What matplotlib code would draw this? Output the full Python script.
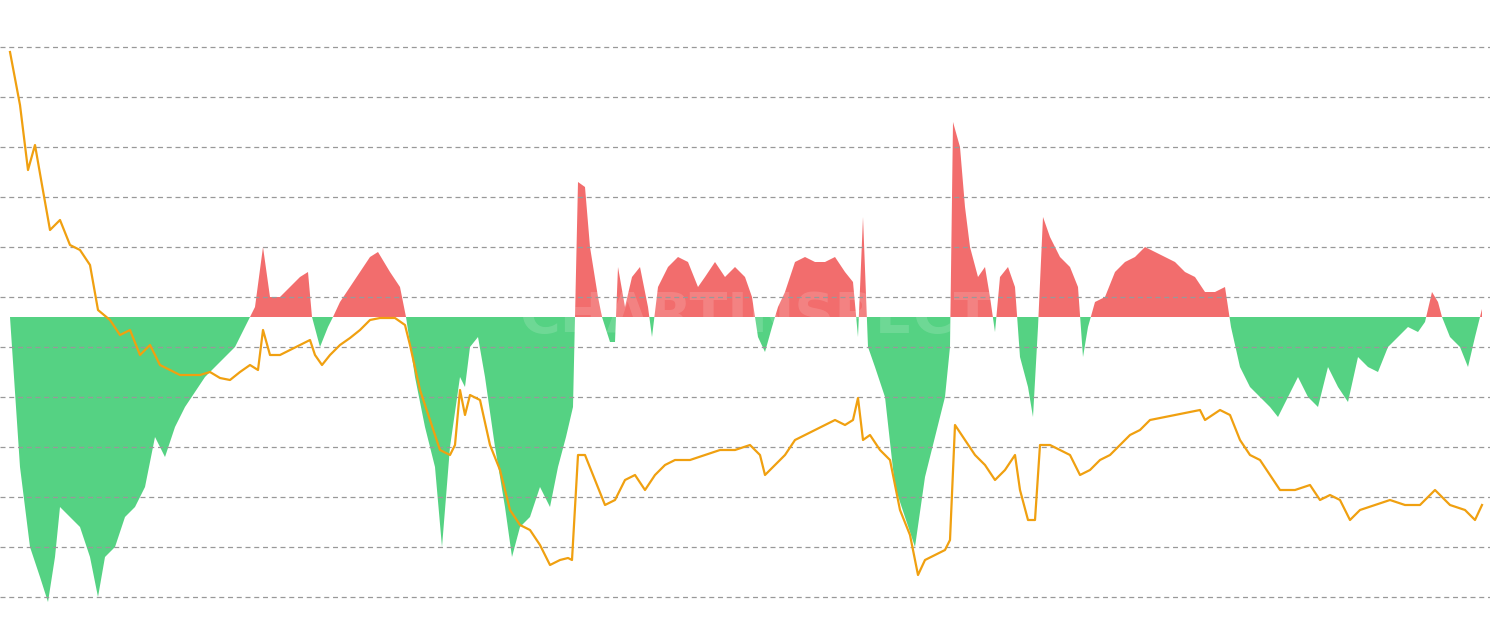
import matplotlib.pyplot as plt
import numpy as np

# oscillator (bars), positive = red, negative = green
osc_x = [10, 20, 30, 40, 48, 55, 60, 70, 80, 90, 98, 105, 115, 125, 135, 145, 155, 165, 175, 185,
         195, 205, 215, 225, 235, 245, 250, 255, 263, 270, 280, 290, 300, 308, 312, 320, 328, 333,
         340, 350, 360, 370, 378, 390, 400, 406, 415, 425, 435, 442, 450, 460, 465, 470, 478, 485,
         495, 505, 512, 520, 530, 540, 550, 558, 566, 573, 578, 585, 590, 598, 602, 610, 615, 618,
         625, 632, 640, 648, 652, 658, 668, 678, 688, 698, 705, 715, 725, 735, 745, 752, 758, 765,
         772, 778, 785, 795, 805, 815, 825, 835, 845, 853, 858, 863, 868, 875, 885, 895, 905, 915,
         925, 935, 945, 950, 953, 960, 965, 970, 978, 985, 990, 995, 1000, 1008, 1015, 1020, 1028,
         1033, 1038, 1043, 1050, 1060, 1070, 1078, 1083, 1088, 1095, 1105, 1115, 1125, 1135, 1145,
         1155, 1165, 1175, 1185, 1195, 1205, 1215, 1225, 1231, 1240, 1250, 1260, 1270, 1278, 1288,
         1298, 1308, 1318, 1328, 1338, 1348, 1358, 1368, 1378, 1388, 1398, 1408, 1418, 1425, 1432,
         1438, 1442, 1450, 1460, 1468, 1475, 1482]
osc_v = [0, -150, -230, -260, -285, -240, -190, -200, -210, -240, -280, -240, -230, -200, -190, -170,
         -120, -140, -110, -90, -75, -60, -50, -40, -30, -10, 0, 10, 70, 20, 20, 30, 40, 45, 0, -30,
         -10, 0, 15, 30, 45, 60, 65, 45, 30, 0, -60, -110, -150, -230, -130, -60, -70, -30, -20, -60,
         -130, -190, -240, -210, -200, -170, -190, -150, -120, -90, 135, 130, 70, 20, 0, -25, -25, 50,
         10, 40, 50, 10, -20, 30, 50, 60, 55, 30, 40, 55, 40, 50, 40, 20, -20, -35, -10, 10, 25, 55,
         60, 55, 55, 60, 45, 35, -20, 100, -30, -50, -80, -170, -200, -230, -160, -120, -80, -30,
         195, 170, 110, 70, 40, 50, 20, -15, 40, 50, 30, -40, -70, -100, -10, 100, 80, 60, 50, 30,
         -40, -10, 15, 20, 45, 55, 60, 70, 65, 60, 55, 45, 40, 25, 25, 30, -10, -50, -70, -80, -90,
         -100, -80, -60, -80, -90, -50, -70, -85, -40, -50, -55, -30, -20, -10, -15, -5, 25, 15, 0,
         -20, -30, -50, -20, 8]

# price-like line
line_x = [10, 20, 28, 35, 42, 50, 60, 70, 80, 90, 98, 110, 120, 130, 140, 150, 160, 170, 180, 190,
          200, 210, 220, 230, 240, 250, 258, 263, 270, 280, 290, 300, 310, 315, 322, 330, 340, 350,
          360, 370, 380, 395, 405, 410, 420, 430, 440, 450, 455, 460, 465, 470, 480, 490, 500, 510,
          520, 530, 540, 550, 560, 568, 572, 578, 585, 595, 605, 615, 625, 635, 645, 655, 665, 675,
          690, 705, 720, 735, 750, 760, 765, 775, 785, 795, 805, 815, 825, 835, 845, 853, 858, 863,
          870, 880, 890, 900, 910, 918, 925, 935, 945, 950, 955, 965, 975, 985, 995, 1005, 1015,
          1020, 1028, 1035, 1040, 1050, 1060, 1070, 1080, 1090, 1100, 1110, 1120, 1130, 1140, 1150,
          1160, 1175, 1190, 1200, 1205, 1220, 1230, 1240, 1250, 1260, 1270, 1280, 1295, 1310, 1320,
          1330, 1340, 1350, 1360, 1375, 1390, 1405, 1420, 1435, 1450, 1465, 1475, 1482]
line_y = [52, 105, 170, 145, 185, 230, 220, 245, 250, 265, 310, 320, 335, 330, 355, 345, 365, 370,
          375, 375, 375, 372, 378, 380, 372, 365, 370, 330, 355, 355, 350, 345, 340, 355, 365, 355,
          345, 338, 330, 320, 318, 318, 325, 345, 390, 420, 450, 455, 445, 390, 415, 395, 400, 445,
          470, 510, 525, 530, 545, 565, 560, 558, 560, 455, 455, 480, 505, 500, 480, 475, 490, 475,
          465, 460, 460, 455, 450, 450, 445, 455, 475, 465, 455, 440, 435, 430, 425, 420, 425, 420,
          398, 440, 435, 450, 460, 510, 535, 575, 560, 555, 550, 540, 425, 440, 455, 465, 480, 470,
          455, 490, 520, 520, 445, 445, 450, 455, 475, 470, 460, 455, 445, 435, 430, 420, 418, 415,
          412, 410, 420, 410, 415, 440, 455, 460, 475, 490, 490, 485, 500, 495, 500, 520, 510, 505,
          500, 505, 505, 490, 505, 510, 520, 505]
line_v = [633 - y for y in line_y]

fig = plt.figure(figsize=(14.9, 6.33), dpi=100)
ax = fig.add_axes([0, 0, 1, 1])
ax.set_xlim(0, 1490)
ax.set_ylim(-316, 317)
ax.axis('off')

for g in range(270, -290, -50):
    ax.axhline(g, color='#999999', ls=(0, (4, 3)), lw=0.9, zorder=5)

ox = np.array(osc_x)
ov = np.array(osc_v)
ax.fill_between(ox, 0, ov, where=ov >= 0, interpolate=True, color='#f26d6d', lw=0, zorder=3)
ax.fill_between(ox, 0, ov, where=ov <= 0, interpolate=True, color='#4fd17f', lw=0, zorder=3, alpha=0.97)

ax.text(755, 0, 'CHARTINSPECT', color='white', alpha=0.15, fontsize=40,
        fontweight='bold', ha='center', va='center', zorder=4)

ax2 = fig.add_axes([0, 0, 1, 1], sharex=ax)
ax2.set_ylim(0, 633)
ax2.axis('off')
ax2.patch.set_alpha(0)
ax2.plot(line_x, line_v, color='#f0a010', lw=1.6, zorder=2)

fig.savefig('out.png', dpi=100)
